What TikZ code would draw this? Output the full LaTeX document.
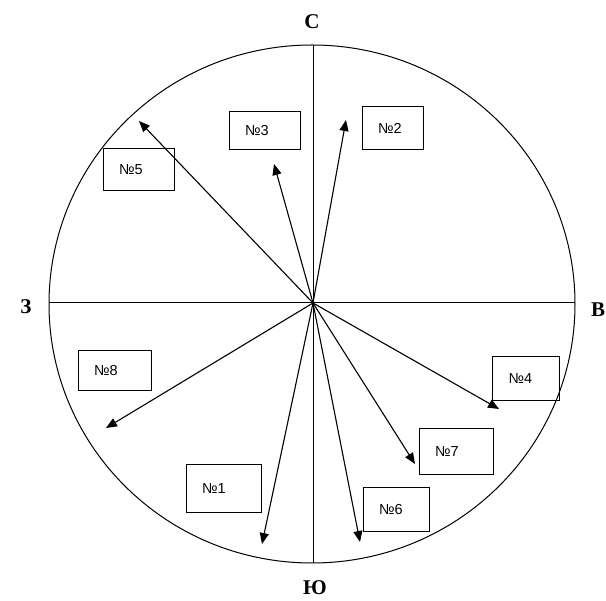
\documentclass[tikz,border=0pt]{standalone}
\usepackage{fontspec}
\setmainfont{Liberation Sans}
\newfontfamily\dirfont{Liberation Serif}
\usetikzlibrary{arrows.meta}
\begin{document}
\begin{tikzpicture}[x=1pt,y=-1pt,
  lbl/.style={draw, line width=1pt, inner ysep=0pt, inner xsep=16pt, align=left,
    font=\fontsize{14.5}{16}\selectfont},
  vec/.style={line width=1.1pt, -{Triangle[width=9pt,length=11pt]}},
  dirlbl/.style={font=\dirfont\bfseries\fontsize{21}{24}\selectfont}]
\useasboundingbox (0,0) rectangle (606,601);
\coordinate (O) at (313,303);
\draw[line width=1pt] (312,304) ellipse[x radius=263, y radius=259];
\coordinate (N) at (313,45);
\coordinate (S) at (313,563);
\coordinate (W) at (49,303);
\coordinate (E) at (575,303);
\draw[line width=1pt] (N) -- (S);
\draw[line width=1pt] (W) -- (E);
\node[dirlbl] (lN) at (312,22) {С};
\node[dirlbl] (lE) at (598,310) {В};
\node[dirlbl] (lS) at (315,588) {Ю};
\node[dirlbl] (lW) at (26,307) {З};
% boxes
\node[lbl, text width=39pt, minimum height=38pt] (b3) at (264.5,131) {№3};
\node[lbl, text width=29pt, minimum height=43pt] (b2) at (392.5,128.5) {№2};
\node[lbl, text width=39pt, minimum height=42pt] (b5) at (138.5,170) {№5};
\node[lbl, text width=41pt, minimum height=40pt] (b8) at (114.5,371) {№8};
\node[lbl, text width=43pt, minimum height=48pt] (b1) at (223.5,489) {№1};
\node[lbl, text width=34pt, minimum height=44pt] (b6) at (396,510) {№6};
\node[lbl, text width=42pt, minimum height=46pt] (b7) at (456,452) {№7};
\node[lbl, text width=35pt, minimum height=44pt] (b4) at (526,379) {№4};
% arrow tips
\coordinate (t2) at (346,120);
\coordinate (t3) at (274,164);
\coordinate (t5) at (139,121);
\coordinate (t8) at (106,428);
\coordinate (t1) at (262,544);
\coordinate (t6) at (360,542);
\coordinate (t7) at (415,464);
\coordinate (t4) at (499,409);
\foreach \t in {t1,t2,t3,t4,t5,t6,t7,t8} \draw[vec] (O) -- (\t);
\end{tikzpicture}
\end{document}
